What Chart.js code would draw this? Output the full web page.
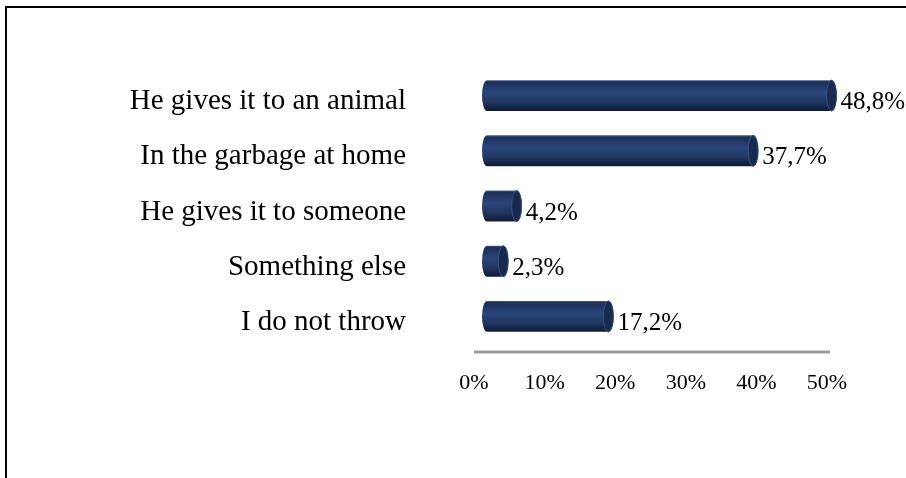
<!DOCTYPE html>
<html>
<head>
<meta charset="utf-8">
<script src="https://cdn.jsdelivr.net/npm/chart.js@4.4.1/dist/chart.umd.min.js"></script>
<style>
  html, body { margin: 0; padding: 0; background: #fff; overflow: hidden; }
  #wrap { position: relative; width: 906px; height: 478px; overflow: hidden; }
  #frame { position: absolute; left: 5px; top: 6px; width: 960px; height: 520px;
           border-top: 2px solid #000; border-left: 2px solid #000; box-sizing: border-box; }
  canvas { position: absolute; left: 0; top: 0; }
</style>
</head>
<body>
<div id="wrap">
  <div id="frame"></div>
  <canvas id="chart" width="906" height="478"></canvas>
</div>
<script>
// Where the food leftovers end up (share of answers, %)
const categories = [
  'He gives it to an animal',
  'In the garbage at home',
  'He gives it to someone',
  'Something else',
  'I do not throw'
];
const shares = [48.8, 37.7, 4.2, 2.3, 17.2];
const tickValues = [0, 10, 20, 30, 40, 50];

const SERIF = '"Liberation Serif", "Times New Roman", serif';
const DEPTH = 13;   // 3-D shift of the cylinders to the right of the axis
const CAP_RX = 5;   // horizontal radius of the cylinder ends

function pct(v) { return v.toFixed(1).replace('.', ',') + '%'; }

// Gray baseline under the bars, a little below the plot area
const axisLine = {
  id: 'axisLine',
  beforeDatasetsDraw(chart) {
    const { ctx, chartArea } = chart;
    const xs = chart.scales.x;
    ctx.save();
    ctx.strokeStyle = '#9b9b9b';
    ctx.lineWidth = 3;
    ctx.beginPath();
    ctx.moveTo(chartArea.left, chartArea.bottom + 8);
    ctx.lineTo(xs.getPixelForValue(50) + 3, chartArea.bottom + 8);
    ctx.stroke();
    ctx.restore();
  }
};

// Draws each bar as a horizontal cylinder, plus its value label
const cylinders = {
  id: 'cylinders',
  afterDatasetsDraw(chart) {
    const { ctx } = chart;
    const meta = chart.getDatasetMeta(0);
    meta.data.forEach((bar, i) => {
      const p = bar.getProps(['x', 'y', 'base', 'height'], true);
      const x0 = p.base + DEPTH;
      const x1 = p.x + DEPTH;
      const h = p.height;
      const yt = p.y - h / 2, yb = p.y + h / 2;
      ctx.save();
      const g = ctx.createLinearGradient(0, yt, 0, yb);
      g.addColorStop(0.00, '#4a5d82');
      g.addColorStop(0.06, '#1b2e57');
      g.addColorStop(0.40, '#2b467b');
      g.addColorStop(0.72, '#1f365f');
      g.addColorStop(1.00, '#0f1b37');
      ctx.fillStyle = g;
      ctx.beginPath();
      ctx.moveTo(x1, yt);
      ctx.lineTo(x0, yt);
      ctx.ellipse(x0, p.y, CAP_RX, h / 2, 0, -Math.PI / 2, Math.PI / 2, true);
      ctx.lineTo(x1, yb);
      ctx.ellipse(x1, p.y, CAP_RX, h / 2, 0, Math.PI / 2, -Math.PI / 2, true);
      ctx.closePath();
      ctx.fill();
      // visible end face
      ctx.beginPath();
      ctx.ellipse(x1, p.y, CAP_RX, h / 2, 0, 0, Math.PI * 2);
      ctx.fillStyle = '#192a50';
      ctx.fill();
      ctx.strokeStyle = '#34507f';
      ctx.lineWidth = 1;
      ctx.stroke();
      // value label
      ctx.fillStyle = '#000';
      ctx.font = '25px ' + SERIF;
      ctx.textAlign = 'left';
      ctx.textBaseline = 'middle';
      ctx.fillText(pct(shares[i]), x1 + CAP_RX + 4, p.y + 7);
      ctx.restore();
    });
  }
};

new Chart(document.getElementById('chart'), {
  type: 'bar',
  data: {
    labels: categories,
    datasets: [{
      data: shares,
      backgroundColor: 'rgba(0,0,0,0)',
      borderWidth: 0,
      barPercentage: 0.56,
      categoryPercentage: 1
    }]
  },
  options: {
    indexAxis: 'y',
    responsive: false,
    animation: false,
    layout: { padding: { top: 68, right: 79, left: 0, bottom: 0 } },
    plugins: { legend: { display: false }, tooltip: { enabled: false } },
    scales: {
      x: {
        min: 0, max: 50,
        afterBuildTicks(scale) { scale.ticks = tickValues.map(v => ({ value: v })); },
        afterFit(scale) { scale.height = 134; },
        grid: { display: false, drawTicks: false },
        border: { display: false },
        ticks: {
          padding: 26,
          color: '#000',
          font: { family: SERIF, size: 22 },
          callback: v => v + '%'
        }
      },
      y: {
        afterFit(scale) {
          scale.width = 474;
          scale.paddingTop = 0;
          scale.paddingBottom = 0;
        },
        grid: { display: false, drawTicks: false },
        border: { display: false },
        ticks: {
          padding: 68,
          labelOffset: 6,
          color: '#000',
          font: { family: SERIF, size: 29 }
        }
      }
    }
  },
  plugins: [axisLine, cylinders]
});
</script>
</body>
</html>
